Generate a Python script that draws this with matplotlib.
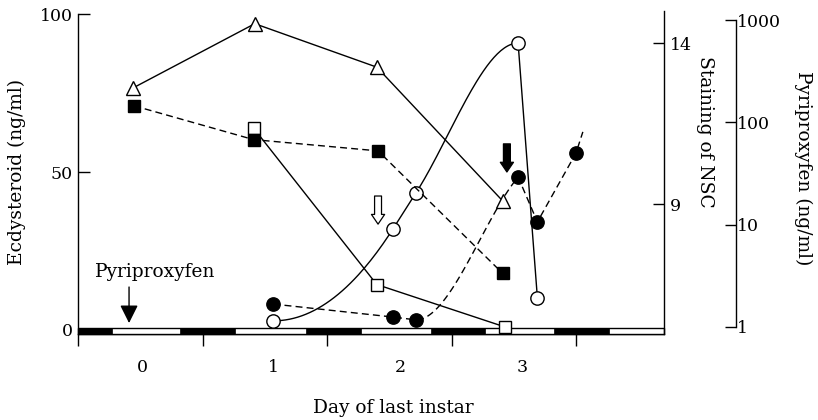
import numpy as np
import matplotlib
matplotlib.use("Agg")
import matplotlib.pyplot as plt
from matplotlib.patches import Rectangle, FancyArrowPatch
from matplotlib.transforms import blended_transform_factory

plt.rcParams['font.family'] = ['DejaVu Serif']
plt.rcParams['font.size'] = 12.5
LABEL_SIZE = 13.4

# ---- data -------------------------------------------------------------
day_labels = ['0', '1', '2', '3']
day_label_pos = [0.52, 1.57, 2.59, 3.57]

# photoperiod: dark phases (days)
dark_start = [0.0, 0.82, 1.83, 2.835, 3.825]
dark_end = [0.27, 1.26, 2.27, 3.27, 4.265]

# NSC staining (right axis)
nsc_ctrl_day = [0.44, 1.42, 2.40, 3.41]
nsc_ctrl = [12.6, 14.6, 13.25, 9.1]
nsc_trt_day = [0.45, 1.41, 2.41, 3.41]
nsc_trt = [12.05, 11.0, 10.65, 6.85]

# pyriproxyfen titre (log axis)
pyr_day = [1.41, 2.40, 3.43]
pyr_conc = [88.0, 2.6, 1.0]

# ecdysteroid titre (left axis)
ecd_ctrl_day = [1.57, 2.53, 2.715, 3.535, 3.69]
ecd_ctrl = [2.9, 32.0, 43.4, 90.8, 10.1]
ecd_trt_day = [1.57, 2.53, 2.715, 3.535, 3.69, 4.0]
ecd_trt = [8.2, 4.1, 3.2, 48.4, 34.2, 56.0]
ecd_trt_trend_day = 4.055
ecd_trt_trend = 62.7

# event arrows
pyr_treat_day = 0.41
wander_ctrl_day = 2.41
wander_trt_day = 3.445


def hermite(x0, y0, x1, y1, m0, m1, n=60):
    t = np.linspace(0.0, 1.0, n)
    h = x1 - x0
    h00 = 2 * t**3 - 3 * t**2 + 1
    h10 = t**3 - 2 * t**2 + t
    h01 = -2 * t**3 + 3 * t**2
    h11 = t**3 - t**2
    return x0 + h * t, h00 * y0 + h10 * h * m0 + h01 * y1 + h11 * h * m1


def secant(xs, ys, i):
    return (ys[i + 1] - ys[i]) / (xs[i + 1] - xs[i])


# ---- figure -----------------------------------------------------------
W, H = 818, 420
fig = plt.figure(figsize=(W / 100, H / 100), dpi=100)
fig.patch.set_facecolor('white')

ax = fig.add_axes([78 / W, 86 / H, 586 / W, 323 / H])
ax2 = ax.twinx()
ax3 = ax.twinx()
for a in (ax, ax2, ax3):
    a.patch.set_visible(False)
ax.set_zorder(1)
ax3.set_zorder(2)
ax2.set_zorder(3)

ax.set_xlim(0, 586 / 124.5)
ax.set_ylim(-1.266, 100.95)
ax2.set_ylim(4.963, 14.994)
ax3.set_yscale('log')
ax3.set_ylim(0.854, 1228)

lw = 1.0
dash = (0, (5, 3))

# main axes styling
ax.spines['top'].set_visible(False)
ax.spines['right'].set_visible(False)
ax.spines['left'].set_linewidth(lw)
ax.spines['bottom'].set_linewidth(lw)
ax.spines['left'].set_bounds(-1.266, 100)
ax.set_yticks([0, 50, 100])
ax.set_yticklabels(['0', '50', '100'])
ax.tick_params(axis='y', direction='in', length=8.6, width=lw, pad=4.0)
ax.set_xticks([0, 1, 2, 3, 4])
ax.set_xticklabels([])
ax.tick_params(axis='x', which='major', direction='out', length=8.6, width=lw)
ax.set_xticks(day_label_pos, minor=True)
ax.set_xticklabels(day_labels, minor=True)
ax.tick_params(axis='x', which='minor', length=0, pad=18)

# NSC axis
for s in ('left', 'top', 'bottom'):
    ax2.spines[s].set_visible(False)
ax2.spines['right'].set_linewidth(lw)
ax2.set_yticks([9, 14])
ax2.set_yticklabels(['9', '14'])
ax2.tick_params(axis='y', direction='in', length=7.9, width=lw, pad=4.0)

# pyriproxyfen axis
for s in ('left', 'top', 'bottom'):
    ax3.spines[s].set_visible(False)
ax3.spines['right'].set_position(('axes', 658 / 586))
ax3.spines['right'].set_bounds(1, 1000)
ax3.spines['right'].set_linewidth(lw)
ax3.set_yticks([1, 10, 100, 1000])
ax3.set_yticklabels(['1', '10', '100', '1000'])
ax3.yaxis.set_minor_locator(matplotlib.ticker.NullLocator())
ax3.tick_params(axis='y', direction='in', length=7.9, width=lw, pad=1)

# light/dark bar along the time axis
bt = blended_transform_factory(ax.transData, ax.transAxes)
bar_h = 6 / 323
ax.add_patch(Rectangle((0, 0), ax.get_xlim()[1], bar_h, transform=bt,
                       facecolor='white', edgecolor='black', lw=lw,
                       zorder=2.6, clip_on=False))
for s0, s1 in zip(dark_start, dark_end):
    ax.add_patch(Rectangle((s0, 0), s1 - s0, bar_h, transform=bt,
                           facecolor='black', edgecolor='black', lw=0.5,
                           zorder=2.7, clip_on=False))

mk = dict(markeredgecolor='black', markeredgewidth=lw, clip_on=False)

# NSC staining
ax2.plot(nsc_ctrl_day, nsc_ctrl, '-', color='black', lw=lw, marker='^',
         ms=9.6, markerfacecolor='white', zorder=3, **mk)
ax2.plot(nsc_trt_day, nsc_trt, linestyle=dash, color='black', lw=lw,
         marker='s', ms=8.6, markerfacecolor='black', zorder=4, **mk)

# pyriproxyfen
ax3.plot(pyr_day, pyr_conc, '-', color='black', lw=lw, marker='s', ms=8.6,
         markerfacecolor='white', zorder=3, **mk)

# ecdysteroid, control: smooth rise, sharp fall
xs, ys = ecd_ctrl_day, ecd_ctrl
s_mid = secant(xs, ys, 1)
slopes = [0.0, s_mid, s_mid, 0.0]
cx, cy = [], []
for i in range(3):
    px, py = hermite(xs[i], ys[i], xs[i + 1], ys[i + 1], slopes[i], slopes[i + 1])
    cx.extend(px)
    cy.extend(py)
cx.append(xs[4])
cy.append(ys[4])
ax.plot(cx, cy, '-', color='black', lw=lw, zorder=3)
ax.plot(xs, ys, 'o', ms=9.6, markerfacecolor='white', zorder=4, **mk)

# ecdysteroid, treated
xs, ys = ecd_trt_day, ecd_trt
tx = list(xs[:3])
ty = list(ys[:3])
px, py = hermite(xs[2], ys[2], xs[3], ys[3], 0.0, 0.85 * secant(xs, ys, 2))
tx.extend(px[1:])
ty.extend(py[1:])
tx.extend(xs[4:] + [ecd_trt_trend_day])
ty.extend(ys[4:] + [ecd_trt_trend])
ax.plot(tx, ty, linestyle=dash, color='black', lw=lw, zorder=3)
ax.plot(xs, ys, 'o', ms=9.6, markerfacecolor='black', zorder=4, **mk)

# arrows
ax.add_patch(FancyArrowPatch((pyr_treat_day, 13.6), (pyr_treat_day, 2.2),
                             arrowstyle='-|>,head_length=1.1,head_width=0.55',
                             mutation_scale=10, lw=lw, color='black',
                             shrinkA=0, shrinkB=0, zorder=5))
ax.add_patch(FancyArrowPatch((wander_ctrl_day, 42.4), (wander_ctrl_day, 33.5),
                             arrowstyle='simple,head_length=0.7,head_width=0.95,tail_width=0.5',
                             mutation_scale=10, lw=0.9, facecolor='white',
                             edgecolor='black', shrinkA=0, shrinkB=0, zorder=5))
ax.add_patch(FancyArrowPatch((wander_trt_day, 58.9), (wander_trt_day, 50.0),
                             arrowstyle='simple,head_length=0.7,head_width=0.95,tail_width=0.5',
                             mutation_scale=10, lw=0.9, facecolor='black',
                             edgecolor='black', shrinkA=0, shrinkB=0, zorder=5))

ax.text(0.618, 18.4, 'Pyriproxyfen', ha='center', va='center', zorder=5,
        fontsize=LABEL_SIZE)

# axis titles
fig.text(17 / W, 1 - 172 / H, 'Ecdysteroid (ng/ml)', rotation=90,
         ha='center', va='center', fontsize=LABEL_SIZE)
fig.text(705 / W, 1 - 132 / H, 'Staining of NSC', rotation=270,
         ha='center', va='center', fontsize=LABEL_SIZE)
fig.text(803 / W, 1 - 168 / H, 'Pyriproxyfen (ng/ml)', rotation=270,
         ha='center', va='center', fontsize=LABEL_SIZE)
fig.text(393 / W, 1 - 408 / H, 'Day of last instar', ha='center', va='center',
         fontsize=LABEL_SIZE)

fig.savefig('out.png', dpi=100)
